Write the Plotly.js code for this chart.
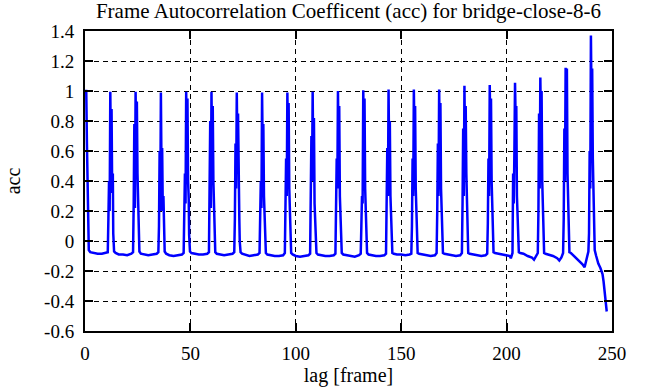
<!DOCTYPE html>
<html>
<head>
<meta charset="utf-8">
<script src="https://cdn.plot.ly/plotly-3.0.1.min.js"></script>
<style>html,body{margin:0;padding:0;background:#fff}#chart{width:656px;height:387px}</style>
</head>
<body>
<div id="chart"></div>
<script>
const chartTitle = "Frame Autocorrelation Coefficent (acc) for bridge-close-8-6";
const xTitle = "lag [frame]";
const yTitle = "acc";
const xTickVals = [0, 50, 100, 150, 200, 250];
const xTickText = ["0", "50", "100", "150", "200", "250"];
const yTickVals = [-0.6, -0.4, -0.2, 0, 0.2, 0.4, 0.6, 0.8, 1, 1.2, 1.4];
const yTickText = ["-0.6", "-0.4", "-0.2", "0", "0.2", "0.4", "0.6", "0.8", "1", "1.2", "1.4"];

const lag = [
  0, 0.6, 0.9, 1.2, 1.45, 1.8, 2.5, 4, 6, 8, 10, 10.8,
  11.1, 11.4, 11.7, 12, 12.3, 12.6, 12.9, 13.2, 13.4, 13.8, 14.5, 16, 18, 20, 22, 22.8,
  23.1, 23.4, 23.7, 24, 24.3, 24.6, 24.9, 25.2, 25.4, 25.8, 26.5, 28, 30, 32, 34, 34.8,
  35.1, 35.4, 35.7, 36, 36.3, 36.6, 36.9, 37.2, 37.4, 37.8, 38.5, 40, 42, 44, 46, 46.8,
  47.1, 47.4, 47.7, 48, 48.3, 48.6, 48.9, 49.2, 49.4, 49.8, 50.5, 52, 54, 56, 58, 58.8,
  59.1, 59.4, 59.7, 60, 60.3, 60.6, 60.9, 61.2, 61.4, 61.8, 62.5, 64, 66, 68, 70, 70.8,
  71.1, 71.4, 71.7, 72, 72.3, 72.6, 72.9, 73.2, 73.4, 73.8, 74.5, 76, 78, 80, 82, 82.8,
  83.1, 83.4, 83.7, 84, 84.3, 84.6, 84.9, 85.2, 85.4, 85.8, 86.5, 88, 90, 92, 94, 94.8,
  95.1, 95.4, 95.7, 96, 96.3, 96.6, 96.9, 97.2, 97.4, 97.8, 98.5, 100, 102, 104, 106, 106.8,
  107.1, 107.4, 107.7, 108, 108.3, 108.6, 108.9, 109.2, 109.4, 109.8, 110.5, 112, 114, 116, 118, 118.8,
  119.1, 119.4, 119.7, 120, 120.3, 120.6, 120.9, 121.2, 121.4, 121.8, 122.5, 124, 126, 128, 130, 130.8,
  131.1, 131.4, 131.7, 132, 132.3, 132.6, 132.9, 133.2, 133.4, 133.8, 134.5, 136, 138, 140, 142, 142.8,
  143.1, 143.4, 143.7, 144, 144.3, 144.6, 144.9, 145.2, 145.4, 145.8, 146.5, 148, 150, 152, 154, 154.8,
  155.1, 155.4, 155.7, 156, 156.3, 156.6, 156.9, 157.2, 157.4, 157.8, 158.5, 160, 162, 164, 166, 166.8,
  167.1, 167.4, 167.7, 168, 168.3, 168.6, 168.9, 169.2, 169.4, 169.8, 170.5, 172, 174, 176, 178, 178.8,
  179.1, 179.4, 179.7, 180, 180.3, 180.6, 180.9, 181.2, 181.4, 181.8, 182.5, 184, 186, 188, 190, 190.8,
  191.1, 191.4, 191.7, 192, 192.3, 192.6, 192.9, 193.2, 193.4, 193.8, 194.5, 196, 198, 200, 201.5, 202, 202.5, 202.8,
  203.1, 203.4, 203.7, 204, 204.3, 204.6, 204.9, 205.2, 205.4, 205.8, 206.5, 208, 210, 212, 213, 214, 214.8,
  215.1, 215.4, 215.7, 216, 216.3, 216.6, 216.9, 217.2, 217.4, 217.8, 218.5, 220, 222, 224, 225, 226, 226.8,
  227.1, 227.4, 227.7, 228, 228.3, 228.6, 228.9, 229.2, 229.4, 229.8, 230.5, 232, 234, 236, 237, 238, 238.8,
  239.1, 239.4, 239.7, 240, 240.3, 240.6, 240.9, 241.2, 241.4, 241.8, 242.5, 243.5, 244.5, 245.5, 246, 246.5, 247, 247.5
];

const acc = [
  1.0, 1.0, 0.66, 0.3, 0.16, -0.06, -0.075, -0.08, -0.085, -0.085, -0.08, -0.075,
  0.15, 0.4, 0.2, 0.995, 0.55, 0.88, 0.32, 0.45, 0.05, -0.07, -0.08, -0.09, -0.09, -0.095, -0.085, -0.075,
  0.25, 0.78, 0.22, 0.995, 0.6, 0.93, 0.45, 0.25, 0.05, -0.07, -0.085, -0.09, -0.095, -0.09, -0.085, -0.075,
  0.1, 0.6, 0.2, 0.99, 0.45, 0.62, 0.2, 0.3, 0.02, -0.07, -0.085, -0.095, -0.1, -0.095, -0.09, -0.08,
  0.2, 0.45, 0.25, 0.995, 0.7, 0.95, 0.4, 0.28, 0.04, -0.07, -0.08, -0.085, -0.09, -0.09, -0.085, -0.075,
  0.3, 0.8, 0.22, 0.995, 0.58, 0.9, 0.4, 0.25, 0.04, -0.075, -0.085, -0.09, -0.095, -0.09, -0.085, -0.075,
  0.15, 0.65, 0.35, 0.99, 0.6, 0.85, 0.28, 0.15, 0.0, -0.075, -0.085, -0.09, -0.1, -0.095, -0.09, -0.08,
  0.12, 0.4, 0.22, 0.99, 0.6, 0.78, 0.3, 0.12, 0.0, -0.08, -0.09, -0.095, -0.1, -0.1, -0.095, -0.08,
  0.15, 0.55, 0.3, 0.99, 0.65, 0.92, 0.35, 0.2, 0.02, -0.08, -0.09, -0.1, -0.105, -0.1, -0.095, -0.085,
  0.2, 0.7, 0.4, 0.995, 0.5, 0.82, 0.25, 0.1, 0.0, -0.08, -0.09, -0.095, -0.1, -0.1, -0.095, -0.085,
  0.15, 0.55, 0.35, 1.0, 0.62, 0.9, 0.3, 0.12, 0.0, -0.08, -0.09, -0.095, -0.1, -0.105, -0.095, -0.085,
  0.1, 0.3, 0.25, 1.005, 0.7, 0.95, 0.35, 0.15, 0.0, -0.08, -0.09, -0.095, -0.1, -0.1, -0.095, -0.085,
  0.15, 0.62, 0.3, 1.01, 0.55, 0.8, 0.3, 0.1, 0.0, -0.08, -0.085, -0.09, -0.09, -0.095, -0.09, -0.085,
  0.1, 0.55, 0.3, 1.01, 0.7, 0.9, 0.35, 0.15, 0.0, -0.08, -0.085, -0.09, -0.095, -0.1, -0.095, -0.08,
  0.2, 0.65, 0.3, 1.01, 0.65, 0.92, 0.35, 0.15, 0.0, -0.08, -0.085, -0.09, -0.095, -0.1, -0.095, -0.08,
  0.25, 0.75, 0.3, 1.035, 0.6, 0.9, 0.45, 0.2, 0.0, -0.08, -0.085, -0.09, -0.095, -0.1, -0.095, -0.085,
  0.12, 0.55, 0.3, 1.04, 0.7, 0.95, 0.4, 0.15, 0.0, -0.075, -0.08, -0.085, -0.09, -0.095, -0.1, -0.115, -0.1, -0.08,
  0.45, 0.25, 0.6, 1.055, 0.8, 0.9, 0.3, 0.15, 0.0, -0.075, -0.08, -0.085, -0.1, -0.11, -0.125, -0.1, -0.08,
  0.2, 0.85, 0.35, 1.09, 0.75, 1.0, 0.4, 0.2, 0.0, -0.08, -0.085, -0.09, -0.1, -0.115, -0.13, -0.11, -0.08,
  0.15, 0.75, 0.4, 1.155, 0.95, 1.15, 0.45, 0.2, 0.0, -0.075, -0.08, -0.1, -0.125, -0.155, -0.175, -0.12, -0.07,
  0.05, 0.6, 0.35, 1.37, 0.9, 1.15, 0.55, 0.3, 0.0, -0.06, -0.1, -0.15, -0.18, -0.22, -0.27, -0.35, -0.4, -0.47
];

const serif = "Liberation Serif, Times New Roman, Times, serif";

const trace = {
  x: lag,
  y: acc,
  type: "scatter",
  mode: "lines",
  line: {color: "#0000ff", width: 2.5},
  hoverinfo: "skip"
};

function axisBase() {
  return {
    showline: true,
    linecolor: "#000",
    linewidth: 2,
    mirror: "ticks",
    ticks: "inside",
    ticklen: 8,
    tickwidth: 2,
    tickcolor: "#000",
    showgrid: true,
    gridcolor: "#000",
    gridwidth: 1,
    griddash: "5px,4px",
    zeroline: false,
    tickfont: {family: serif, size: 19, color: "#000"}
  };
}

const layout = {
  width: 656,
  height: 387,
  margin: {l: 85, r: 44, t: 31, b: 56},
  paper_bgcolor: "#fff",
  plot_bgcolor: "#fff",
  font: {family: serif, size: 19, color: "#000"},
  showlegend: false,
  title: {
    text: chartTitle,
    font: {family: serif, size: 21, color: "#000"},
    x: 0.5, xref: "paper", xanchor: "center",
    y: 0.972, yref: "container", yanchor: "middle"
  },
  xaxis: Object.assign(axisBase(), {
    range: [0, 250],
    tickmode: "array",
    tickvals: xTickVals,
    ticktext: xTickText,
    ticklabelstandoff: 4,
    title: {text: xTitle, font: {family: serif, size: 20, color: "#000"}, standoff: 4}
  }),
  yaxis: Object.assign(axisBase(), {
    range: [-0.6, 1.4],
    tickmode: "array",
    tickvals: yTickVals,
    ticktext: yTickText,
    ticklabelstandoff: 5,
    title: {text: yTitle, font: {family: serif, size: 20, color: "#000"}, standoff: 18}
  })
};

Plotly.newPlot("chart", [trace], layout, {displayModeBar: false, staticPlot: true});
</script>
</body>
</html>
